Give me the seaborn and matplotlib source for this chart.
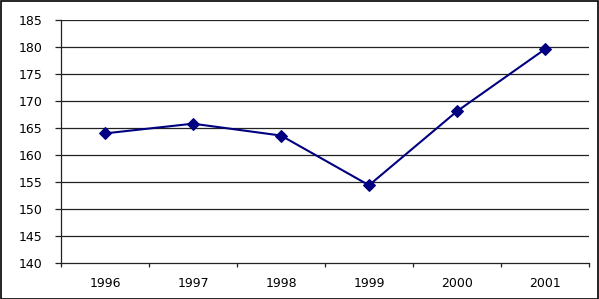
import matplotlib
matplotlib.use("Agg")
import matplotlib.pyplot as plt
import seaborn as sns
import pandas as pd
from matplotlib.patches import Rectangle

years = ["1996", "1997", "1998", "1999", "2000", "2001"]
values = [164.0, 165.8, 163.6, 154.4, 168.1, 179.6]

sns.set_theme(style="white")
plt.rcParams['font.family'] = ['DejaVu Sans']

df = pd.DataFrame({"year": years, "value": values, "pos": range(len(years))})

fig = plt.figure(figsize=(5.99, 2.99), dpi=100)
ax = fig.add_axes([61/599, 1 - 263/299, 528/599, 243/299])

sns.lineplot(data=df, x="pos", y="value", ax=ax, color="#000080", linewidth=1.5,
             marker="D", markersize=6.5, markeredgecolor="#000080", markerfacecolor="#000080")

ax.set_xlim(-0.5, len(years) - 0.5)
ax.set_ylim(140, 185)
ax.set_yticks(range(140, 186, 5))
ax.set_xticks(range(len(years)))
ax.set_xticklabels(years)
ax.set_xticks([i - 0.5 for i in range(len(years) + 1)], minor=True)
ax.set_xlabel("")
ax.set_ylabel("")

for y in range(145, 186, 5):
    ax.axhline(y, color="#222222", linewidth=0.9, zorder=0)

for s in ["top", "right"]:
    ax.spines[s].set_visible(False)
for s in ["left", "bottom"]:
    ax.spines[s].set_color("#222222")
    ax.spines[s].set_linewidth(0.9)

ax.tick_params(axis="y", which="major", left=True, length=4.5, width=0.9, color="#222222",
               labelsize=9, pad=9, labelcolor="black")
ax.tick_params(axis="x", which="major", bottom=False, length=0, labelsize=9, pad=10, labelcolor="black")
ax.tick_params(axis="x", which="minor", bottom=True, length=3, width=0.9, color="#222222")

fig.patches.append(Rectangle((0.5/599, 0.5/299), 597.5/599, 297.5/299, transform=fig.transFigure,
                             fill=False, edgecolor="black", linewidth=1.2))

fig.savefig("out.png", dpi=100)
